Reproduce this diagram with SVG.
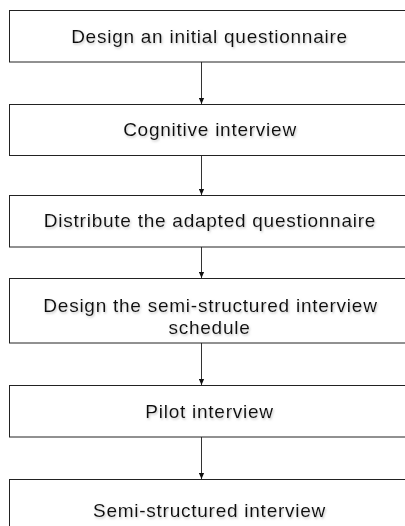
<svg xmlns="http://www.w3.org/2000/svg" width="405" height="526" viewBox="0 0 405 526">
<defs>
<style>
.box{fill:#fff;stroke:#222;stroke-width:1}
.lbl{font-family:"Liberation Sans",Arial,Helvetica,sans-serif;font-size:19px;letter-spacing:0.75px;fill:#111;text-anchor:middle;filter:url(#sh)}
.con{stroke:#333;stroke-width:1;fill:none;marker-end:url(#ah)}
</style>
<filter id="sh" x="-5%" y="-30%" width="110%" height="160%">
<feDropShadow dx="1" dy="1.5" stdDeviation="1" flood-color="#999" flood-opacity="0.55"/>
</filter>
<marker id="ah" viewBox="0 0 6 6" refX="6" refY="3" markerWidth="6" markerHeight="6" markerUnits="userSpaceOnUse" orient="auto">
<path d="M0,0.4 L6,3 L0,5.6 z" fill="#111"/>
</marker>
</defs>
<rect width="405" height="526" fill="#fff"/>
<g id="connectors">
<line class="con" x1="201.5" y1="62" x2="201.5" y2="104"/>
<line class="con" x1="201.5" y1="155" x2="201.5" y2="195"/>
<line class="con" x1="201.5" y1="247" x2="201.5" y2="278"/>
<line class="con" x1="201.5" y1="343" x2="201.5" y2="385"/>
<line class="con" x1="201.5" y1="437" x2="201.5" y2="479"/>
</g>
<g id="n1"><rect class="box" x="9.5" y="10.5" width="400" height="51.5"/><text class="lbl" x="209.5" y="43">Design an initial questionnaire</text></g>
<g id="n2"><rect class="box" x="9.5" y="104.5" width="400" height="51"/><text class="lbl" x="210" y="136">Cognitive interview</text></g>
<g id="n3"><rect class="box" x="9.5" y="195.5" width="400" height="51.5"/><text class="lbl" x="210" y="227">Distribute the adapted questionnaire</text></g>
<g id="n4"><rect class="box" x="9.5" y="278.5" width="400" height="64.5"/><text class="lbl" x="210.5" y="312">Design the semi-structured interview</text><text class="lbl" x="209.5" y="334">schedule</text></g>
<g id="n5"><rect class="box" x="9.5" y="385.5" width="400" height="51.5"/><text class="lbl" x="209.5" y="418">Pilot interview</text></g>
<g id="n6"><rect class="box" x="9.5" y="479.5" width="400" height="60"/><text class="lbl" x="209.5" y="517">Semi-structured interview</text></g>
</svg>
